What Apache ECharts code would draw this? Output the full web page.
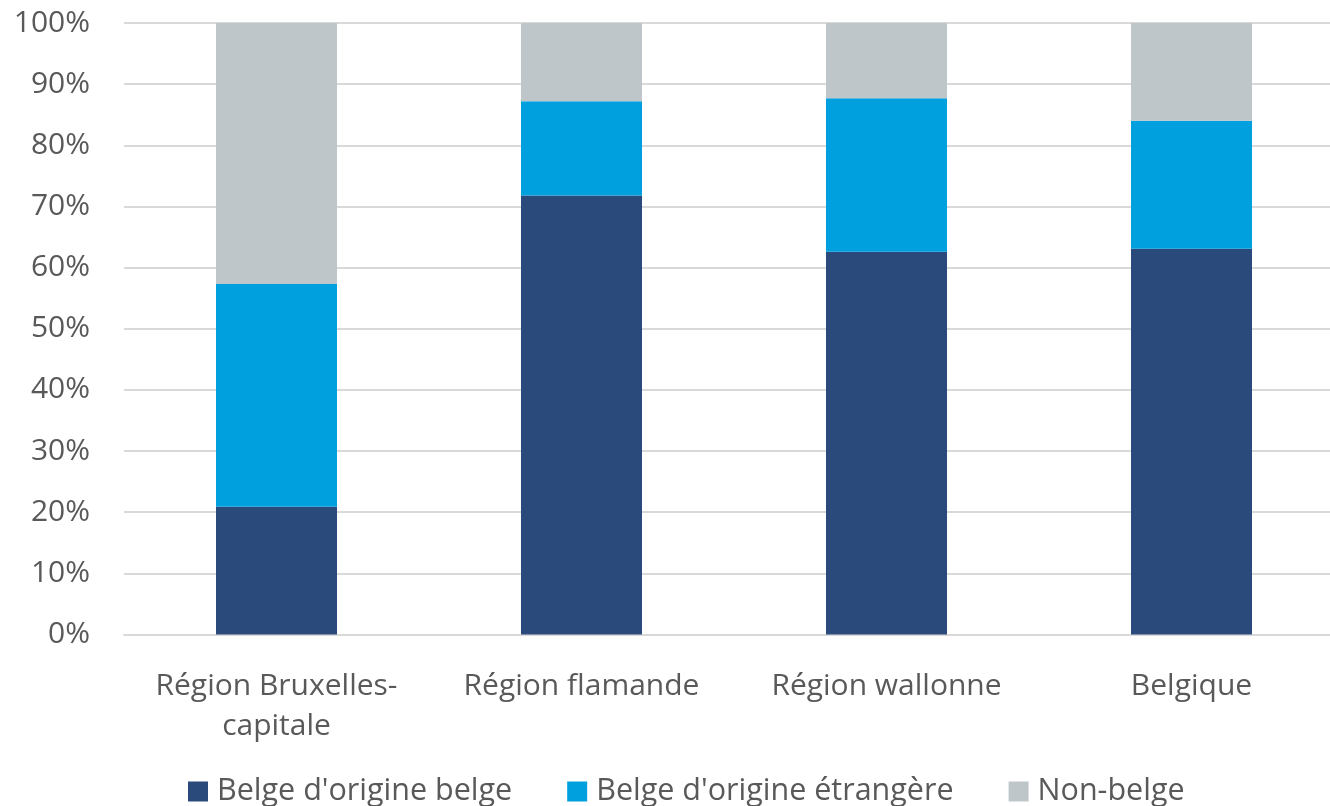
<!DOCTYPE html>
<html><head><meta charset="utf-8">
<script src="https://cdn.jsdelivr.net/npm/echarts@6/dist/echarts.min.js"></script>
<style>html,body{margin:0;padding:0;background:#fff;overflow:hidden}#c{width:1344px;height:806px}</style>
</head><body><div id="c"></div>
<script>
const categories = ["Région Bruxelles-\ncapitale", "Région flamande", "Région wallonne", "Belgique"];
const belgeOrigineBelge = [20.9, 71.8, 62.6, 63.1];
const belgeOrigineEtrangere = [36.4, 15.4, 25.1, 20.9];
const nonBelge = [42.7, 12.8, 12.3, 16.0];
const seriesNames = ["Belge d'origine belge", "Belge d'origine étrangère", "Non-belge"];
const colors = ["#2B4A7C", "#00A0DF", "#BFC6CA"];
const font = "Open Sans";
const chart = echarts.init(document.getElementById('c'));
function mk(i, data){
  return {name: seriesNames[i], type:'bar', stack:'t', data:data, barWidth:121,
    itemStyle:{color:colors[i]}};
}
chart.setOption({
  animation:false,
  textStyle:{fontFamily:font},
  grid:{left:124, top:23, right:0, height:611.5, containLabel:false},
  legend:{bottom:-1, left:188, padding:0, itemWidth:20, itemHeight:20, itemGap:55,
    icon:'rect', textStyle:{fontSize:30.5, color:'#595959', fontFamily:font, padding:[0,0,0,4]},
    data:seriesNames},
  xAxis:{type:'category', data:categories,
    axisLine:{lineStyle:{color:'#D9D9D9', width:2}}, axisTick:{show:false},
    axisLabel:{fontSize:30, color:'#595959', margin:32, lineHeight:40, interval:0}},
  yAxis:{type:'value', min:0, max:100, interval:10,
    axisLine:{show:false}, axisTick:{show:false},
    splitLine:{lineStyle:{color:'#D9D9D9', width:2}},
    axisLabel:{formatter:'{value}%', fontSize:30, color:'#595959', margin:34}},
  series:[mk(0,belgeOrigineBelge), mk(1,belgeOrigineEtrangere), mk(2,nonBelge)]
});
</script></body></html>
